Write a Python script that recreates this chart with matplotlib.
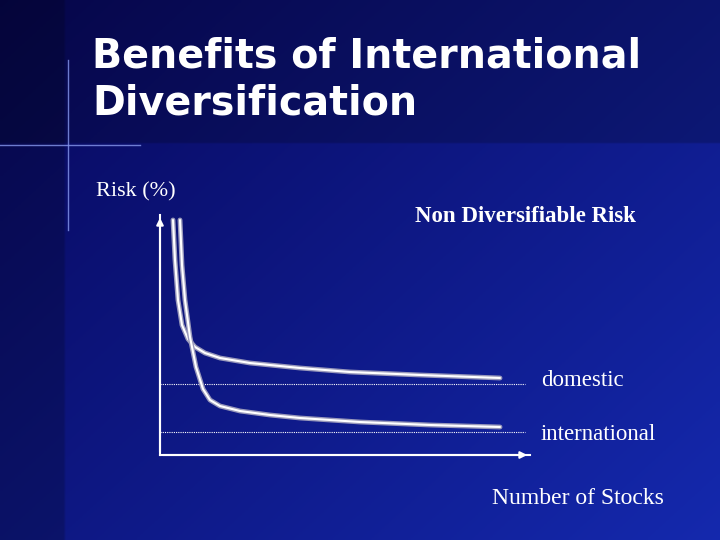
import numpy as np
import matplotlib
matplotlib.use("Agg")
import matplotlib.pyplot as plt

title = "Benefits of International\nDiversification"
dom_x = [1.3, 1.5, 1.8, 2.2, 2.8, 3.5, 4.5, 6, 9, 14, 19, 26, 34]
dom_y = [23.5, 19.5, 15.5, 13.0, 11.6, 10.8, 10.2, 9.7, 9.2, 8.7, 8.3, 8.0, 7.7]
int_x = [2.0, 2.2, 2.5, 3.0, 3.6, 4.3, 5.0, 6.0, 8, 11, 14, 20, 27, 34]
int_y = [23.5, 19.0, 15.5, 11.8, 8.8, 6.6, 5.5, 4.9, 4.4, 4.0, 3.7, 3.3, 3.0, 2.8]
dom_level = 7.1
int_level = 2.3

fig = plt.figure(figsize=(7.2, 5.4), dpi=100)
bg = fig.add_axes([0, 0, 1, 1])
yy, xx = np.mgrid[0:1:200j, 0:1:200j]
t = np.clip(0.55 * xx + 0.45 * yy, 0, 1)
c0 = np.array([0.03, 0.03, 0.36]); c1 = np.array([0.08, 0.16, 0.68])
img = c0 + (c1 - c0) * t[..., None]
img[:int(200 * 145 / 540)] *= 0.8
img[:, :int(200 * 68 / 720)] *= 0.8
bg.imshow(img, extent=[0, 720, 540, 0], aspect="auto")
bg.plot([0, 140], [145, 145], color="#8899ee", lw=1, alpha=0.8)
bg.plot([68, 68], [60, 230], color="#8899ee", lw=1, alpha=0.8)
bg.set_xlim(0, 720); bg.set_ylim(540, 0); bg.axis("off")
bg.text(92, 80, title, color="white", fontsize=28.5, fontweight="bold",
        family="DejaVu Sans", va="center", linespacing=1.2)
bg.text(96, 192, "Risk (%)", color="white", fontsize=16, family="Liberation Serif", va="center")
bg.text(415, 217, "Non Diversifiable Risk", color="white", fontsize=16.5, fontweight="bold",
        family="Liberation Serif", va="center")
bg.text(541, 380, "domestic", color="white", fontsize=16.5, family="Liberation Serif", va="center")
bg.text(541, 434, "international", color="white", fontsize=16.5, family="Liberation Serif", va="center")
bg.text(492, 498, "Number of Stocks", color="white", fontsize=17, family="Liberation Serif", va="center")

ax = fig.add_axes([160 / 720, 85 / 540, 370 / 720, 240 / 540])
ax.patch.set_alpha(0)
ax.set_xlim(0, 37); ax.set_ylim(0, 24)
for s in ["top", "right"]:
    ax.spines[s].set_visible(False)
for s in ["left", "bottom"]:
    ax.spines[s].set_color("white"); ax.spines[s].set_linewidth(1.5)
ax.set_xticks([]); ax.set_yticks([])
ax.annotate("", xy=(0, 24), xytext=(0, 0), arrowprops=dict(arrowstyle="-|>", color="white", lw=1.5))
ax.annotate("", xy=(37, 0), xytext=(0, 0), arrowprops=dict(arrowstyle="-|>", color="white", lw=1.5))
ax.axhline(dom_level, 0, 36.5 / 37, color="white", lw=0.8, ls=(0, (1, 1)))
ax.axhline(int_level, 0, 36.5 / 37, color="white", lw=0.8, ls=(0, (1, 1)))
for xs, ys in [(dom_x, dom_y), (int_x, int_y)]:
    ax.plot(xs, ys, color="#9999bb", lw=3.5, solid_capstyle="round")
    ax.plot(xs, ys, color="white", lw=1.5, solid_capstyle="round")
fig.savefig("out.png", dpi=100)
